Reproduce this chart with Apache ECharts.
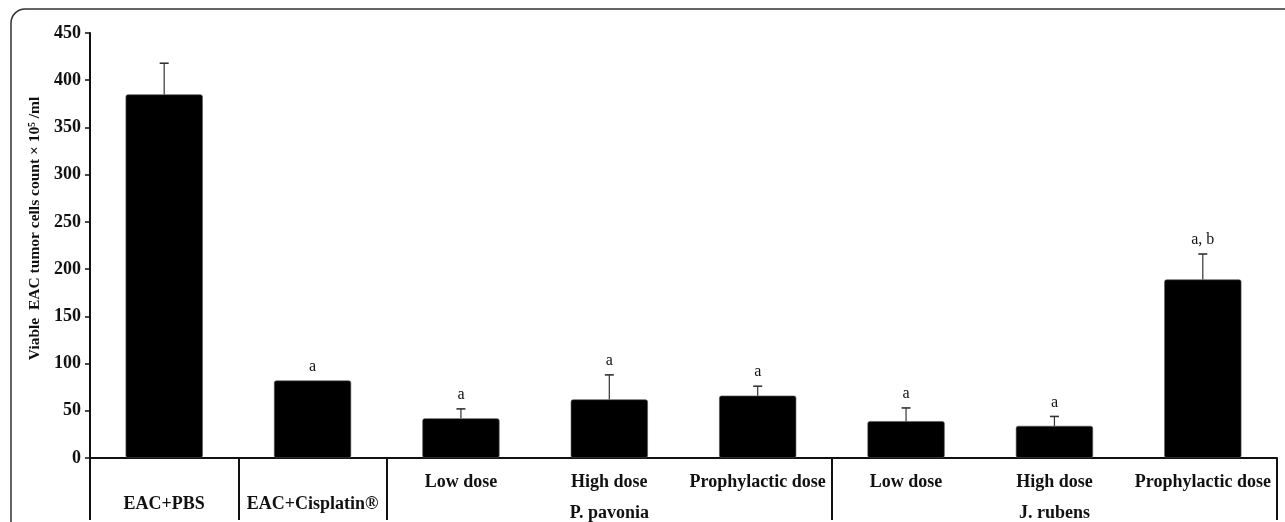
<!DOCTYPE html>
<html>
<head>
<meta charset="utf-8">
<script src="https://cdn.jsdelivr.net/npm/echarts@6/dist/echarts.min.js"></script>
<style>
html,body{margin:0;padding:0;background:#fff;}
#chart{width:1285px;height:522px;}
</style>
</head>
<body>
<div id="chart"></div>
<script>
// Data
const doseLabels = ['', '', 'Low dose', 'High dose', 'Prophylactic dose', 'Low dose', 'High dose', 'Prophylactic dose'];
const groupLabels = ['EAC+PBS', 'EAC+Cisplatin®', '', 'P. pavonia', '', '', 'J. rubens', ''];
const values = [385, 82, 42, 62, 66, 39, 34, 189];
const errors = [33, 0, 10, 26, 10, 14, 10, 27];
const significance = ['', 'a', 'a', 'a', 'a', 'a', 'a', 'a, b'];
const yTicks = { min: 0, max: 450, interval: 50 };
const separatorIndexes = [0, 1, 2, 5];

const serif = '"Liberation Serif", "DejaVu Serif", serif';
const chart = echarts.init(document.getElementById('chart'));

const catIdx = values.map((_, i) => i);
const errData = values.map((v, i) => [i, v, errors[i]]);

const labelBase = { fontFamily: serif, fontWeight: 'bold', fontSize: 18, color: '#111' };

chart.setOption({
  animation: false,
  backgroundColor: '#fff',
  grid: { left: 90, right: 8, top: 33, bottom: 61, containLabel: false },
  graphic: [{
    type: 'rect',
    shape: { x: 11, y: 9, width: 1300, height: 560, r: 14 },
    style: { fill: 'none', stroke: '#333', lineWidth: 1.5 },
    silent: true, z: -1
  }],
  xAxis: {
    type: 'category',
    data: catIdx,
    boundaryGap: true,
    axisLine: { show: true, lineStyle: { color: '#111', width: 2 } },
    axisTick: {
      show: true,
      length: 62,
      interval: function (index) { return separatorIndexes.indexOf(index) >= 0; },
      lineStyle: { color: '#111', width: 2 }
    },
    axisLabel: {
      interval: 0,
      margin: 12,
      fontFamily: serif,
      fontWeight: 'bold',
      fontSize: 18,
      color: '#111',
      rich: {
        d: Object.assign({ lineHeight: 24 }, labelBase),
        g: Object.assign({ lineHeight: 38 }, labelBase),
        e: Object.assign({ lineHeight: 20 }, labelBase)
      },
      formatter: function (value, index) {
        const dose = doseLabels[index] || ' ';
        const group = groupLabels[index];
        if (!doseLabels[index]) return '{d| }\n{e|' + group + '}';
        return '{d|' + dose + '}\n{g|' + (group || ' ') + '}';
      }
    },
    splitLine: { show: false }
  },
  yAxis: {
    type: 'value',
    min: yTicks.min,
    max: yTicks.max,
    interval: yTicks.interval,
    name: 'Viable  EAC tumor cells count × 10⁵ /ml',
    nameLocation: 'middle',
    nameGap: 46,
    nameTextStyle: {
      fontFamily: serif, fontWeight: 'bold', fontSize: 15.5, color: '#111',
      padding: [0, 0, 0, 34]
    },
    axisLine: { show: true, lineStyle: { color: '#111', width: 2 } },
    axisTick: { show: true, length: 5, lineStyle: { color: '#111', width: 1.5 } },
    axisLabel: { margin: 9, fontFamily: serif, fontWeight: 'bold', fontSize: 18, color: '#111' },
    splitLine: { show: false }
  },
  series: [
    {
      type: 'bar',
      data: values,
      barWidth: '52%',
      itemStyle: { color: '#000', borderRadius: 2, borderColor: '#555', borderWidth: 0.6 },
      z: 2
    },
    {
      type: 'custom',
      data: errData,
      encode: { x: 0, y: 1 },
      z: 3,
      renderItem: function (params, api) {
        const i = api.value(0);
        const v = api.value(1);
        const e = api.value(2);
        const base = api.coord([i, v]);
        const top = api.coord([i, v + e]);
        const children = [];
        if (e > 0) {
          children.push({ type: 'line', shape: { x1: top[0], y1: base[1], x2: top[0], y2: top[1] },
            style: { stroke: '#333', lineWidth: 1.2 } });
          children.push({ type: 'line', shape: { x1: top[0] - 4.5, y1: top[1], x2: top[0] + 4.5, y2: top[1] },
            style: { stroke: '#333', lineWidth: 1.6 } });
        }
        const txt = significance[params.dataIndex];
        if (txt) {
          children.push({ type: 'text', x: top[0], y: top[1] - 14,
            style: { text: txt, fill: '#111', font: '16px ' + serif, align: 'center', verticalAlign: 'middle' } });
        }
        return { type: 'group', children: children };
      }
    }
  ]
});
</script>
</body>
</html>
